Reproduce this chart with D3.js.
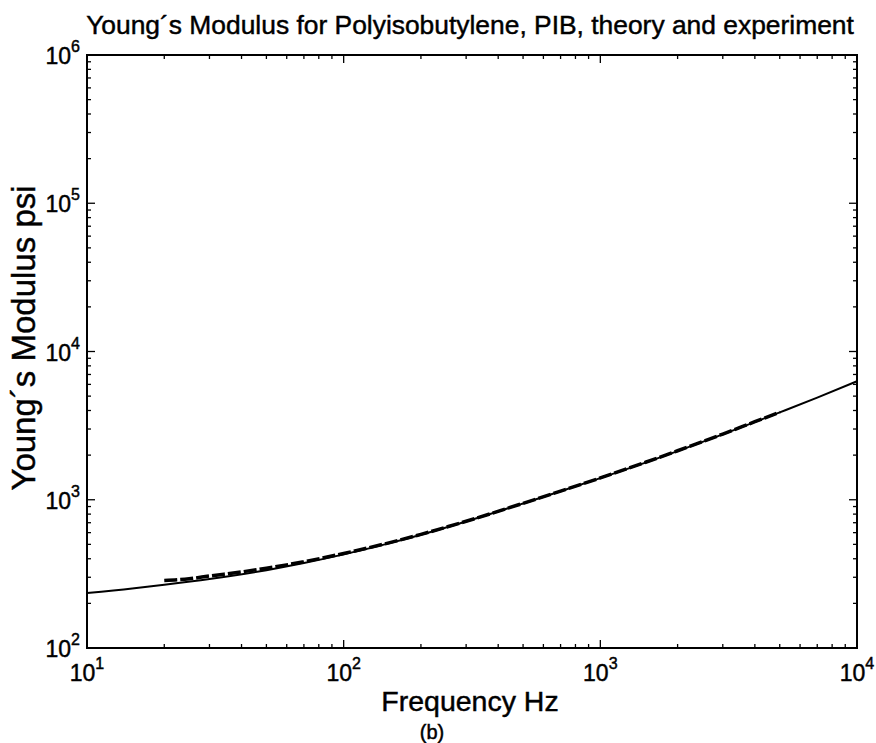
<!DOCTYPE html>
<html>
<head>
<meta charset="utf-8">
<script src="https://cdn.jsdelivr.net/npm/d3@7"></script>
<style>
  body { margin: 0; background: #fff; }
  svg text { font-family: "Liberation Sans", Arial, Helvetica, sans-serif; fill: #000; stroke: #000; stroke-width: 0.45px; }
</style>
</head>
<body>
<div id="chart"></div>
<script>
// theory curve (solid)
let theoryFreq = [10, 15, 20, 30, 50, 70, 100, 150, 200, 300, 500, 700, 1000, 1500, 2000, 3000, 5000, 7000, 10000]
let theoryMod  = [235, 252, 267, 292, 335, 374, 428, 508, 581, 714, 944, 1141, 1400, 1781, 2127, 2760, 3881, 4881, 6300]

// experiment (dashed)
let expFreq = [20, 25, 30, 40, 50, 70, 100, 150, 200, 300, 500, 700, 1000, 1500, 2000, 3000, 4000, 5000]
let expMod  = [285, 293, 306, 326, 345, 382, 434, 512, 584, 716, 946, 1143, 1403, 1790, 2140, 2775, 3360, 3895]

let xTicks = [10, 100, 1000, 10000]
let yTicks = [100, 1000, 10000, 100000, 1000000]

let width = 876
let height = 743
let margin = {left: 87, right: 19, top: 55, bottom: 95}
let plotW = width - margin.left - margin.right
let plotH = height - margin.top - margin.bottom

let svg = d3.select('#chart').append('svg')
  .attr('width', width)
  .attr('height', height)

let x = d3.scaleLog().domain([10, 10000]).range([margin.left, margin.left + plotW])
let y = d3.scaleLog().domain([100, 1000000]).range([margin.top + plotH, margin.top])

// minor tick values
let xMinor = []
for (let d = 10; d < 10000; d *= 10) {
  for (let k = 2; k <= 9; k++) xMinor.push(d * k)
}
let yMinor = []
for (let d = 100; d < 1000000; d *= 10) {
  for (let k = 2; k <= 9; k++) yMinor.push(d * k)
}

let majorLen = 8
let minorLen = 4

// ticks, inward on all four sides
let tickG = svg.append('g').attr('stroke', '#000').attr('stroke-width', 1.3)
xMinor.concat(xTicks).forEach(v => {
  let len = xTicks.includes(v) ? majorLen : minorLen
  tickG.append('line').attr('x1', x(v)).attr('x2', x(v))
    .attr('y1', y.range()[0]).attr('y2', y.range()[0] - len)
  tickG.append('line').attr('x1', x(v)).attr('x2', x(v))
    .attr('y1', y.range()[1]).attr('y2', y.range()[1] + len)
})
yMinor.concat(yTicks).forEach(v => {
  let len = yTicks.includes(v) ? majorLen : minorLen
  tickG.append('line').attr('y1', y(v)).attr('y2', y(v))
    .attr('x1', x.range()[0]).attr('x2', x.range()[0] + len)
  tickG.append('line').attr('y1', y(v)).attr('y2', y(v))
    .attr('x1', x.range()[1]).attr('x2', x.range()[1] - len)
})

// frame
svg.append('rect')
  .attr('x', margin.left).attr('y', margin.top)
  .attr('width', plotW).attr('height', plotH)
  .attr('fill', 'none').attr('stroke', '#000').attr('stroke-width', 2)

// tick labels 10^n
let expOf = v => Math.round(Math.log10(v))

svg.selectAll('.xlab').data(xTicks).enter().append('text')
  .attr('class', 'xlab')
  .attr('x', d => x(d))
  .attr('y', 681)
  .attr('text-anchor', 'middle')
  .style('font-size', '23px')
  .each(function(d) {
    let t = d3.select(this)
    t.append('tspan').text('10')
    t.append('tspan').attr('dy', -12).style('font-size', '16px').text(expOf(d))
  })

svg.selectAll('.ylab').data(yTicks).enter().append('text')
  .attr('class', 'ylab')
  .attr('x', 80)
  .attr('y', d => y(d) + 9)
  .attr('text-anchor', 'end')
  .style('font-size', '23px')
  .each(function(d) {
    let t = d3.select(this)
    t.append('tspan').text('10')
    t.append('tspan').attr('dy', -12).style('font-size', '16px').text(expOf(d))
  })

// curves
let line = d3.line()
  .x(d => x(d[0]))
  .y(d => y(d[1]))
  .curve(d3.curveMonotoneX)

let theory = theoryFreq.map((f, i) => [f, theoryMod[i]])
let experiment = expFreq.map((f, i) => [f, expMod[i]])

svg.append('path')
  .datum(experiment)
  .attr('d', line)
  .attr('fill', 'none')
  .attr('stroke', '#000')
  .attr('stroke-width', 3.5)
  .attr('stroke-dasharray', '13,3')

svg.append('path')
  .datum(theory)
  .attr('d', line)
  .attr('fill', 'none')
  .attr('stroke', '#000')
  .attr('stroke-width', 2)

// titles
svg.append('text')
  .attr('x', 470).attr('y', 34)
  .attr('text-anchor', 'middle')
  .style('font-size', '26.4px')
  .text('Young´s Modulus for Polyisobutylene, PIB, theory and experiment')

svg.append('text')
  .attr('x', 470).attr('y', 711)
  .attr('text-anchor', 'middle')
  .style('font-size', '28.5px')
  .text('Frequency Hz')

svg.append('text')
  .attr('x', 432).attr('y', 739)
  .attr('text-anchor', 'middle')
  .style('font-size', '20px')
  .text('(b)')

svg.append('text')
  .attr('transform', 'translate(35,338) rotate(-90)')
  .attr('text-anchor', 'middle')
  .style('font-size', '33px')
  .text('Young´s Modulus psi')
</script>
</body>
</html>
